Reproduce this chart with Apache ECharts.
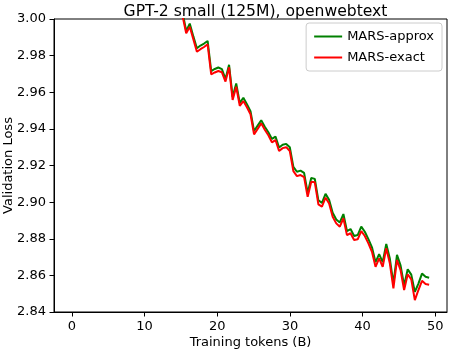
<!DOCTYPE html>
<html>
<head>
<meta charset="utf-8">
<script src="https://cdn.jsdelivr.net/npm/echarts@6/dist/echarts.min.js"></script>
<style>html,body{margin:0;padding:0;background:#fff;}#c{width:449px;height:351px;}</style>
</head>
<body>
<div id="c"></div>
<script>
// Evaluation index (one eval every 1000 steps = 0.49152B tokens); first listed eval index:
const firstEvalIndex = 28;
const tokensPerEval = 0.49152;
const xTicks = [0, 10, 20, 30, 40, 50];
const yTicks = [2.84, 2.86, 2.88, 2.90, 2.92, 2.94, 2.96, 2.98, 3.00];
const seriesNames = ['MARS-approx', 'MARS-exact'];

const marsApprox = [
  3.030, 3.020, 3.012, 3.0035, 2.9935, 2.9975, 2.9905, 2.9840, 2.9855, 2.9866, 2.9880,
  2.9716, 2.9727, 2.9735, 2.9726, 2.9672, 2.9750, 2.9575, 2.9648, 2.9542, 2.9570,
  2.9535, 2.9497, 2.9388, 2.9418, 2.9447, 2.9412, 2.9382, 2.9345, 2.9358, 2.9298,
  2.9313, 2.9318, 2.9300, 2.9192, 2.9166, 2.9172, 2.9160, 2.9050, 2.9132, 2.9127,
  2.9010, 2.8996, 2.9045, 2.9013, 2.8942, 2.8905, 2.8889, 2.8935, 2.8842, 2.8853,
  2.8815, 2.8820, 2.8866, 2.8838, 2.8798, 2.8753, 2.8672, 2.8716, 2.8672, 2.8772,
  2.8692, 2.8555, 2.8712, 2.8655, 2.8545, 2.8633, 2.8604, 2.8510, 2.8555, 2.8610,
  2.8592, 2.8587
];
const marsExact = [
  3.028, 3.018, 3.010, 3.0015, 2.9922, 2.9958, 2.9890, 2.9821, 2.9835, 2.9847, 2.9862,
  2.9698, 2.9708, 2.9716, 2.9709, 2.9658, 2.9736, 2.9558, 2.9630, 2.9526, 2.9552,
  2.9518, 2.9480, 2.9370, 2.9400, 2.9430, 2.9395, 2.9365, 2.9326, 2.9339, 2.9279,
  2.9295, 2.9300, 2.9279, 2.9169, 2.9142, 2.9148, 2.9137, 2.9029, 2.9111, 2.9108,
  2.8988, 2.8975, 2.9024, 2.8993, 2.8920, 2.8884, 2.8866, 2.8912, 2.8820, 2.8830,
  2.8793, 2.8797, 2.8842, 2.8815, 2.8775, 2.8729, 2.8647, 2.8693, 2.8647, 2.8748,
  2.8666, 2.8529, 2.8684, 2.8629, 2.8520, 2.8606, 2.8578, 2.8465, 2.8520, 2.8570,
  2.8553, 2.8549
];

function toPairs(vals) {
  return vals.map((v, i) => [(firstEvalIndex + i) * tokensPerEval, v]);
}

const FONT = 'DejaVu Sans';
const chart = echarts.init(document.getElementById('c'), null, {renderer: 'canvas'});
chart.setOption({
  animation: false,
  backgroundColor: '#ffffff',
  title: {
    text: 'GPT-2 small (125M), openwebtext',
    left: 250.5,
    textAlign: 'center',
    top: -1,
    textStyle: {fontFamily: FONT, fontSize: 15.6, fontWeight: 'normal', color: '#000'}
  },
  legend: {
    orient: 'vertical',
    right: 7,
    top: 23,
    icon: 'rect',
    itemWidth: 28,
    itemHeight: 2,
    itemGap: 8,
    padding: [7, 8, 7, 8],
    backgroundColor: 'rgba(255,255,255,0.8)',
    borderColor: '#cccccc',
    borderWidth: 1,
    borderRadius: 3,
    textStyle: {fontFamily: FONT, fontSize: 13, color: '#000'},
    data: seriesNames
  },
  grid: {
    left: 54, right: 2, top: 19, bottom: 39,
    outerBoundsMode: 'none',
    containLabel: false,
    show: true, borderColor: '#000', borderWidth: 1, backgroundColor: 'transparent'
  },
  xAxis: {
    type: 'value',
    min: -2.4576, max: 51.6096,
    name: 'Training tokens (B)',
    nameLocation: 'middle',
    nameGap: 24,
    nameMoveOverlap: false,
    nameTextStyle: {fontFamily: FONT, fontSize: 13, color: '#000'},
    axisLine: {show: true, onZero: false, lineStyle: {color: '#000', width: 1}},
    axisTick: {show: true, length: 4.5, customValues: xTicks, lineStyle: {color: '#000', width: 1}},
    axisLabel: {customValues: xTicks, margin: 8, fontFamily: FONT, fontSize: 13, color: '#000'},
    splitLine: {show: false}
  },
  yAxis: {
    type: 'value',
    min: 2.84, max: 3.00,
    name: 'Validation Loss',
    nameLocation: 'middle',
    nameGap: 39,
    nameRotate: 90,
    nameMoveOverlap: false,
    nameTextStyle: {fontFamily: FONT, fontSize: 13, color: '#000'},
    axisLine: {show: true, onZero: false, lineStyle: {color: '#000', width: 1}},
    axisTick: {show: true, length: 4.5, customValues: yTicks, lineStyle: {color: '#000', width: 1}},
    axisLabel: {customValues: yTicks, margin: 8, fontFamily: FONT, fontSize: 13, color: '#000',
      formatter: v => Number(v).toFixed(2)},
    splitLine: {show: false}
  },
  series: [
    {name: seriesNames[0], type: 'line', data: toPairs(marsApprox), symbol: 'none', clip: true,
     lineStyle: {color: '#008000', width: 2}, itemStyle: {color: '#008000'}, z: 2},
    {name: seriesNames[1], type: 'line', data: toPairs(marsExact), symbol: 'none', clip: true,
     lineStyle: {color: '#ff0000', width: 2}, itemStyle: {color: '#ff0000'}, z: 3}
  ]
});
</script>
</body>
</html>
